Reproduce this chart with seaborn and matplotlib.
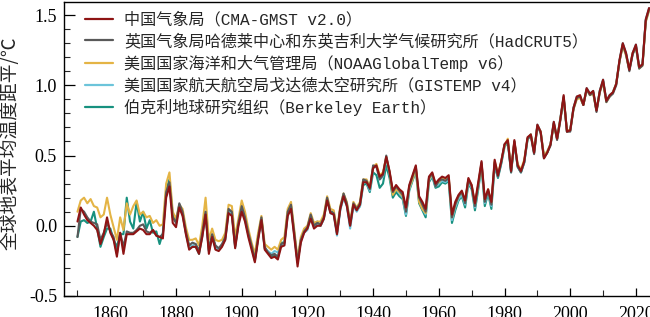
import matplotlib
matplotlib.use("Agg")
import matplotlib.pyplot as plt
import seaborn as sns
import pandas as pd
from matplotlib.ticker import MultipleLocator

# ---------------- data ----------------
years = list(range(1850, 2025))
gis_years = list(range(1880, 2025))

labels = [
    "中国气象局（CMA-GMST v2.0）",
    "英国气象局哈德莱中心和东英吉利大学气候研究所（HadCRUT5）",
    "美国国家海洋和大气管理局（NOAAGlobalTemp v6）",
    "美国国家航天航空局戈达德太空研究所（GISTEMP v4）",
    "伯克利地球研究组织（Berkeley Earth）",
]

cma = [0.03, 0.13, 0.08, 0.04, 0.02, 0.00, -0.03, -0.13, -0.06, 0.06,
       -0.05, -0.10, -0.22, -0.05, -0.20, -0.06, -0.06, -0.06, -0.04, -0.02,
       -0.03, -0.06, -0.06, -0.03, -0.07, -0.08, -0.09, 0.20, 0.28, 0.02,
       -0.01, 0.13, 0.07, -0.06, -0.17, -0.15, -0.15, -0.20, -0.08, 0.08,
       -0.20, -0.08, -0.17, -0.18, -0.15, -0.10, 0.09, 0.07, -0.16, 0.00,
       0.10, 0.03, -0.08, -0.17, -0.26, -0.10, 0.04, -0.17, -0.20, -0.23,
       -0.22, -0.24, -0.15, -0.14, 0.07, 0.12, -0.08, -0.29, -0.12, -0.05,
       -0.02, 0.05, -0.02, 0.00, 0.00, 0.05, 0.18, 0.09, 0.08, -0.06,
       0.12, 0.21, 0.14, 0.00, 0.15, 0.11, 0.15, 0.31, 0.31, 0.27,
       0.41, 0.43, 0.35, 0.37, 0.49, 0.39, 0.25, 0.29, 0.26, 0.24,
       0.13, 0.29, 0.36, 0.43, 0.21, 0.17, 0.12, 0.35, 0.38, 0.30,
       0.33, 0.35, 0.34, 0.36, 0.08, 0.17, 0.22, 0.25, 0.18, 0.34,
       0.29, 0.16, 0.31, 0.46, 0.19, 0.26, 0.17, 0.47, 0.36, 0.46,
       0.58, 0.61, 0.39, 0.61, 0.43, 0.39, 0.46, 0.63, 0.65, 0.52,
       0.72, 0.67, 0.48, 0.52, 0.58, 0.74, 0.62, 0.76, 0.93, 0.67,
       0.68, 0.84, 0.92, 0.93, 0.86, 0.98, 0.94, 0.96, 0.82, 0.96,
       1.04, 0.89, 0.93, 0.95, 1.01, 1.18, 1.30, 1.23, 1.11, 1.23,
       1.29, 1.13, 1.15, 1.47, 1.55]

hadcrut = [-0.08, 0.12, 0.10, 0.06, 0.03, 0.02, 0.01, -0.10, -0.05, 0.02,
           -0.04, -0.08, -0.20, -0.05, -0.15, -0.04, -0.05, -0.05, -0.03, 0.00,
           0.01, -0.04, -0.05, -0.03, -0.07, -0.08, -0.06, 0.24, 0.31, 0.06,
           0.02, 0.16, 0.10, -0.04, -0.14, -0.12, -0.13, -0.18, -0.05, 0.10,
           -0.17, -0.06, -0.14, -0.16, -0.13, -0.08, 0.12, 0.10, -0.14, 0.02,
           0.14, 0.06, -0.05, -0.14, -0.24, -0.08, 0.06, -0.15, -0.19, -0.21,
           -0.20, -0.22, -0.13, -0.12, 0.10, 0.15, -0.05, -0.26, -0.10, -0.04,
           -0.01, 0.08, 0.00, 0.02, 0.01, 0.06, 0.20, 0.10, 0.09, -0.05,
           0.13, 0.23, 0.16, 0.01, 0.16, 0.12, 0.16, 0.33, 0.32, 0.26,
           0.43, 0.42, 0.33, 0.36, 0.50, 0.38, 0.24, 0.28, 0.25, 0.22,
           0.10, 0.28, 0.35, 0.42, 0.20, 0.15, 0.10, 0.34, 0.37, 0.28,
           0.32, 0.33, 0.32, 0.34, 0.06, 0.15, 0.21, 0.24, 0.16, 0.33,
           0.28, 0.14, 0.29, 0.45, 0.17, 0.25, 0.15, 0.45, 0.35, 0.45,
           0.58, 0.60, 0.38, 0.60, 0.42, 0.38, 0.45, 0.62, 0.64, 0.51,
           0.71, 0.66, 0.48, 0.52, 0.57, 0.73, 0.61, 0.75, 0.92, 0.67,
           0.67, 0.83, 0.91, 0.92, 0.86, 0.97, 0.93, 0.95, 0.81, 0.95,
           1.03, 0.88, 0.92, 0.94, 1.00, 1.17, 1.29, 1.22, 1.10, 1.22,
           1.28, 1.12, 1.14, 1.46, 1.54]

noaa = [0.10, 0.18, 0.20, 0.16, 0.19, 0.14, 0.13, 0.06, 0.08, 0.20,
        0.08, -0.01, -0.10, 0.06, -0.03, 0.16, 0.08, 0.14, 0.18, 0.08,
        0.10, 0.06, 0.07, 0.02, 0.04, 0.00, 0.01, 0.30, 0.38, 0.10,
        0.05, 0.15, 0.12, -0.01, -0.10, -0.10, -0.09, -0.14, 0.00, 0.20,
        -0.10, -0.02, -0.10, -0.11, -0.10, -0.05, 0.15, 0.14, -0.08, 0.05,
        0.18, 0.10, -0.02, -0.12, -0.20, -0.05, 0.07, -0.13, -0.15, -0.17,
        -0.15, -0.17, -0.10, -0.08, 0.12, 0.17, -0.03, -0.24, -0.08, -0.02,
        0.00, 0.09, 0.02, 0.03, 0.03, 0.08, 0.21, 0.12, 0.11, -0.03,
        0.14, 0.23, 0.17, 0.03, 0.17, 0.13, 0.17, 0.33, 0.33, 0.28,
        0.42, 0.44, 0.36, 0.38, 0.49, 0.38, 0.22, 0.26, 0.24, 0.21,
        0.11, 0.27, 0.33, 0.41, 0.17, 0.12, 0.09, 0.33, 0.37, 0.30,
        0.31, 0.34, 0.33, 0.35, 0.06, 0.15, 0.21, 0.24, 0.17, 0.33,
        0.29, 0.15, 0.29, 0.44, 0.18, 0.26, 0.16, 0.46, 0.37, 0.46,
        0.57, 0.62, 0.40, 0.60, 0.44, 0.40, 0.47, 0.62, 0.65, 0.53,
        0.71, 0.67, 0.50, 0.53, 0.58, 0.72, 0.62, 0.76, 0.91, 0.68,
        0.68, 0.83, 0.90, 0.91, 0.86, 0.97, 0.93, 0.94, 0.82, 0.95,
        1.02, 0.88, 0.92, 0.95, 1.01, 1.17, 1.28, 1.21, 1.11, 1.23,
        1.27, 1.12, 1.14, 1.45, 1.53]

gistemp = [0.01, 0.15, 0.09, -0.05, -0.15, -0.14, -0.13, -0.19, -0.07, 0.09,
           -0.18, -0.08, -0.16, -0.17, -0.14, -0.10, 0.10, 0.08, -0.15, 0.01,
           0.12, 0.04, -0.06, -0.15, -0.24, -0.09, 0.04, -0.16, -0.18, -0.20,
           -0.18, -0.19, -0.14, -0.13, 0.08, 0.14, -0.07, -0.26, -0.11, -0.05,
           -0.03, 0.06, -0.01, 0.01, 0.00, 0.05, 0.19, 0.09, 0.08, -0.07,
           0.11, 0.20, 0.14, -0.02, 0.14, 0.10, 0.14, 0.31, 0.31, 0.25,
           0.41, 0.43, 0.33, 0.35, 0.48, 0.37, 0.23, 0.27, 0.23, 0.20,
           0.08, 0.26, 0.33, 0.40, 0.18, 0.12, 0.08, 0.32, 0.36, 0.28,
           0.30, 0.32, 0.31, 0.33, 0.04, 0.13, 0.19, 0.22, 0.15, 0.31,
           0.27, 0.13, 0.28, 0.43, 0.16, 0.24, 0.14, 0.44, 0.35, 0.45,
           0.57, 0.61, 0.39, 0.60, 0.42, 0.38, 0.45, 0.62, 0.65, 0.52,
           0.72, 0.67, 0.49, 0.53, 0.58, 0.74, 0.62, 0.77, 0.91, 0.68,
           0.68, 0.84, 0.92, 0.92, 0.86, 0.98, 0.94, 0.96, 0.82, 0.96,
           1.04, 0.89, 0.93, 0.95, 1.01, 1.18, 1.30, 1.23, 1.11, 1.23,
           1.29, 1.13, 1.15, 1.47, 1.55]

berkeley = [-0.08, 0.03, 0.04, 0.02, 0.03, 0.10, -0.02, -0.15, -0.08, -0.02,
            -0.02, -0.10, -0.15, -0.06, -0.06, 0.20, 0.03, -0.02, 0.17, 0.03,
            0.10, -0.02, 0.04, -0.05, -0.04, -0.13, -0.05, 0.25, 0.33, 0.08,
            0.03, 0.14, 0.08, -0.05, -0.16, -0.15, -0.15, -0.20, -0.07, 0.09,
            -0.18, -0.07, -0.15, -0.17, -0.14, -0.09, 0.11, 0.09, -0.15, 0.02,
            0.13, 0.05, -0.06, -0.15, -0.25, -0.08, 0.05, -0.16, -0.19, -0.22,
            -0.21, -0.23, -0.12, -0.12, 0.08, 0.14, -0.06, -0.26, -0.10, -0.04,
            -0.02, 0.07, 0.01, 0.03, 0.00, 0.05, 0.19, 0.10, 0.10, -0.05,
            0.12, 0.21, 0.15, 0.00, 0.15, 0.11, 0.14, 0.29, 0.30, 0.24,
            0.38, 0.36, 0.27, 0.30, 0.43, 0.34, 0.20, 0.24, 0.21, 0.19,
            0.07, 0.25, 0.32, 0.39, 0.16, 0.11, 0.06, 0.31, 0.35, 0.27,
            0.28, 0.31, 0.30, 0.32, 0.02, 0.11, 0.18, 0.21, 0.13, 0.30,
            0.26, 0.11, 0.26, 0.42, 0.14, 0.23, 0.12, 0.43, 0.34, 0.44,
            0.56, 0.60, 0.38, 0.59, 0.42, 0.38, 0.45, 0.61, 0.65, 0.52,
            0.71, 0.67, 0.49, 0.52, 0.58, 0.73, 0.62, 0.76, 0.91, 0.67,
            0.68, 0.84, 0.91, 0.92, 0.86, 0.97, 0.94, 0.95, 0.82, 0.96,
            1.03, 0.89, 0.92, 0.95, 1.01, 1.17, 1.29, 1.22, 1.11, 1.22,
            1.28, 1.12, 1.15, 1.46, 1.54]

colors = ["#8e1414", "#595959", "#e4b445", "#6cc4da", "#17917f"]

ylabel = "全球地表平均温度距平/℃"
xticks = [1860, 1880, 1900, 1920, 1940, 1960, 1980, 2000, 2020]
yticks = [-0.5, 0.0, 0.5, 1.0, 1.5]

# ---------------- long-form table ----------------
series = [(years, cma), (years, hadcrut), (years, noaa), (gis_years, gistemp), (years, berkeley)]
frames = []
for lab, (yrs, vals) in zip(labels, series):
    frames.append(pd.DataFrame({"year": yrs, "value": vals, "source": lab}))
df = pd.concat(frames, ignore_index=True)

# ---------------- styling ----------------
sns.set_theme(style="white")
plt.rcParams["font.family"] = ["Liberation Serif", "Noto Sans CJK SC", "DejaVu Sans"]
plt.rcParams["axes.unicode_minus"] = False

fig = plt.figure(figsize=(6.5, 3.17), dpi=100)
ax = fig.add_axes([64 / 650, 21 / 317, 589 / 650, 294 / 317])

# draw back to front so CMA ends on top
for i in [4, 3, 2, 1, 0]:
    sub = df[df["source"] == labels[i]]
    sns.lineplot(data=sub, x="year", y="value", color=colors[i], linewidth=1.5,
                 ax=ax, label=labels[i], zorder=2 + (4 - i))

ax.set_xlim(1845.9, 2025.2)
ax.set_ylim(-0.5, 1.593)
ax.set_xticks(xticks)
ax.set_yticks(yticks)
ax.set_yticklabels(["-0.5", "0.0", "0.5", "1.0", "1.5"])
ax.xaxis.set_minor_locator(MultipleLocator(10))
ax.yaxis.set_minor_locator(MultipleLocator(0.1))
ax.tick_params(axis="both", which="major", direction="in", length=8, width=0.9,
               labelsize=13, colors="black", bottom=True, left=True)
ax.tick_params(axis="both", which="minor", direction="in", length=4.5, width=0.8,
               bottom=True, left=True)
ax.tick_params(axis="x", which="major", length=6, pad=7)
ax.tick_params(axis="y", which="major", pad=5)
for s in ax.spines.values():
    s.set_color("black")
    s.set_linewidth(1.0)

ax.set_xlabel("")
ax.set_ylabel(ylabel, fontsize=13.5, family=["Noto Sans CJK SC", "DejaVu Sans"])
ax.yaxis.set_label_coords(-0.074, 0.52)

h, l = ax.get_legend_handles_labels()
order = [l.index(lab) for lab in labels]
leg = ax.legend([h[k] for k in order], [l[k] for k in order], loc="upper left",
                bbox_to_anchor=(0.02, 1.0), frameon=False, handlelength=1.7,
                handletextpad=0.7, labelspacing=0.36, borderaxespad=0.2,
                prop={"family": ["Liberation Mono", "Noto Sans CJK SC"], "size": 11.6})
for line in leg.get_lines():
    line.set_linewidth(1.6)

fig.savefig("out.png", dpi=100)
